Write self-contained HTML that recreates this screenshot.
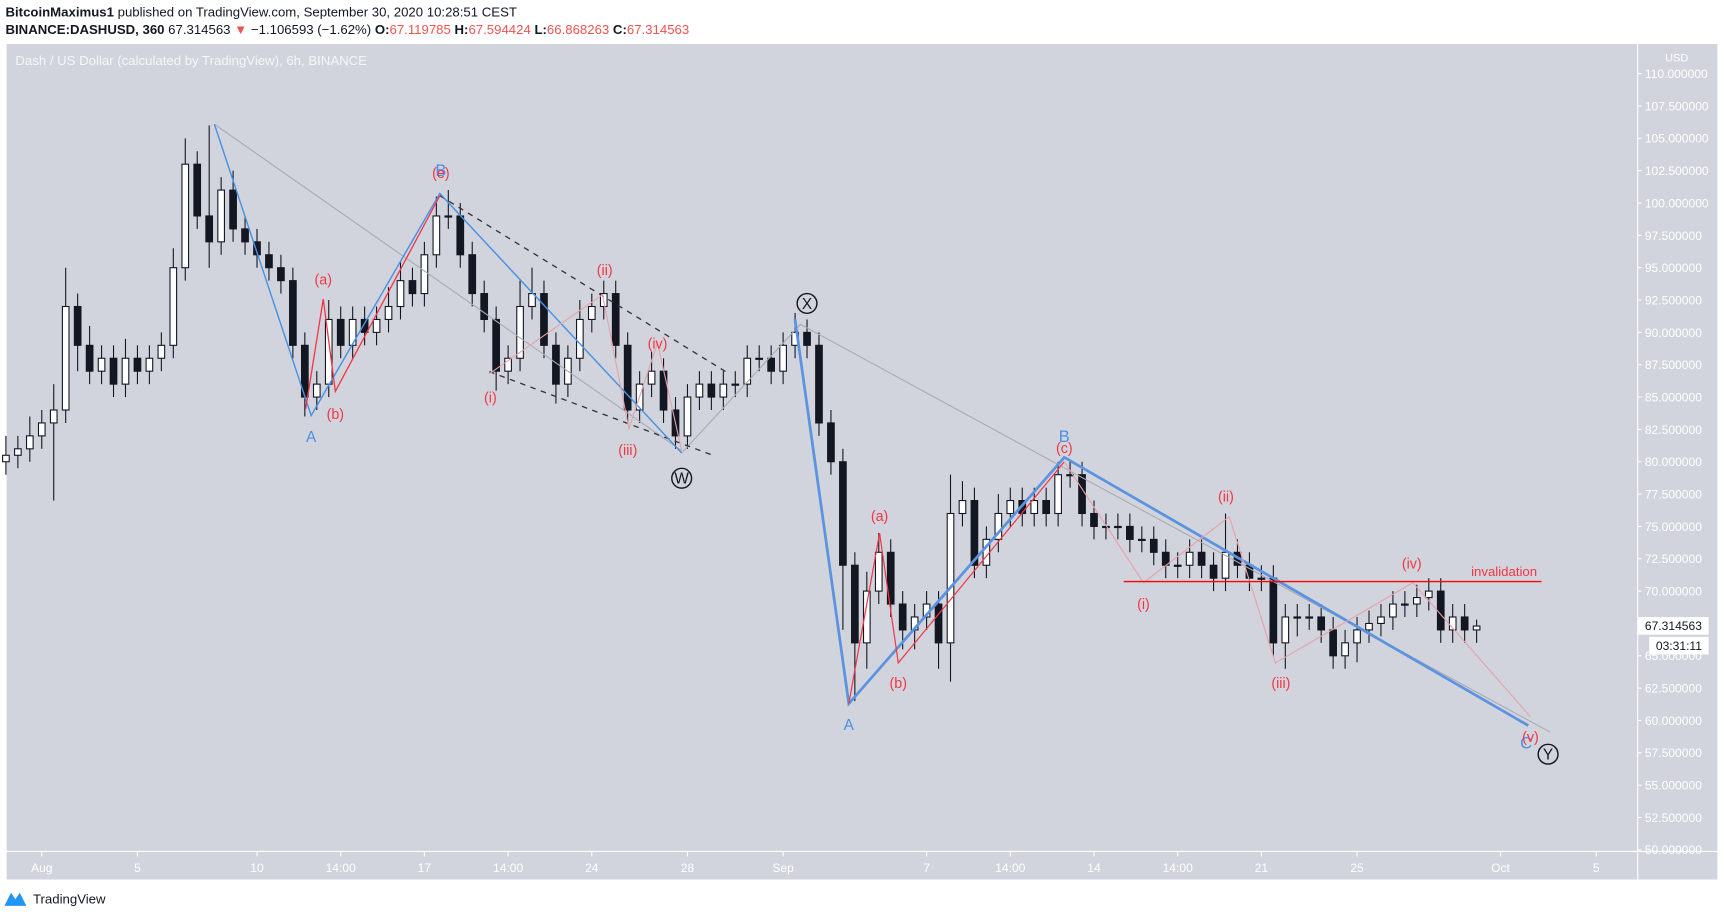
<!DOCTYPE html>
<html><head><meta charset="utf-8"><style>
html,body{margin:0;padding:0;background:#fff;width:1724px;height:918px;overflow:hidden}
svg{display:block;font-family:"Liberation Sans",sans-serif}
</style></head><body>
<svg id="chart" width="1724" height="918" viewBox="0 0 1568 835" preserveAspectRatio="none" xmlns="http://www.w3.org/2000/svg">
<rect x="0" y="0" width="1568" height="835" fill="#ffffff"/>
<text x="5" y="15" font-size="12" fill="#131722"><tspan font-weight="bold">BitcoinMaximus1</tspan> published on TradingView.com, September 30, 2020 10:28:51 CEST</text>
<text x="5" y="31" font-size="12" fill="#131722"><tspan font-weight="bold">BINANCE:DASHUSD, 360</tspan> 67.314563 <tspan fill="#ef5350">▼</tspan> −1.106593 (−1.62%) <tspan font-weight="bold">O:</tspan><tspan fill="#ef5350">67.119785</tspan> <tspan font-weight="bold">H:</tspan><tspan fill="#ef5350">67.594424</tspan> <tspan font-weight="bold">L:</tspan><tspan fill="#ef5350">66.868263</tspan> <tspan font-weight="bold">C:</tspan><tspan fill="#ef5350">67.314563</tspan></text>
<rect x="6" y="40" width="1556" height="760" fill="#d1d4dc"/>
<line x1="6" y1="774.5" x2="1562" y2="774.5" stroke="#fff" stroke-width="1"/>
<line x1="1489.5" y1="40" x2="1489.5" y2="800" stroke="#fff" stroke-width="1"/>
<text x="14" y="59" font-size="12" fill="#f5f6f8">Dash / US Dollar (calculated by TradingView), 6h, BINANCE</text>
<text x="1525" y="56" font-size="10" fill="#fff" text-anchor="middle">USD</text>
<g id="yaxis"></g>
<g id="xaxis"></g>
<g id="candles"></g>
<g id="ann"></g>
<g>
<path d="M4 824 L10 812 L14 818 L18 812 L24 824 Z" fill="#2196f3"/>
<text x="30" y="822" font-size="12" fill="#131722">TradingView</text>
</g>
</svg>
<script>
const priceTicks=[110,107.5,105,102.5,100,97.5,95,92.5,90,87.5,85,82.5,80,77.5,75,72.5,70,67.5,65,62.5,60,57.5,55,52.5,50];
const timeLabels=["Aug","5","10","14:00","17","14:00","24","28","Sep","7","14:00","14","14:00","21","25","Oct","5"];
const timeDays=[0,4,9,12.5,16,19.5,23,27,31,37,40.5,44,47.5,51,55,61,65];
// 12h candles starting Jul 30 12:00 (day -1.5 relative to Aug 1)
const startDay=-1.5;
const firstOpen=80.0;
const closes=[80.5,81,82,83,84,92,89,87,88,86,88,87,88,89,95,103,99,97,101,98,97,96,95,94,89,85,86,91,89,91,90,91,92,94,93,96,99,99,96,93,91,87,88,92,93,89,86,88,91,92,93,89,84,86,87,84,82,85,86,85,86,86,88,88,87,89,90,89,83,80,72,66,70,73,69,67,68,69,66,76,77,72,74,76,77,76,77,76,79,79,76,75,75,75,74,74,73,72,72,73,72,71,73,72,71,71,66,68,68,68,67,65,66,67,67.5,68,69,69,69.5,70,67,68,67,67.3];
const wickUp=[1.5,1,1.5,1,2,3,1,1.5,1,1,1.5,1,1,1,1.5,2,1,7,1,1.5,1,1,1,1,1,1,1,1.5,1,1,1,1,1.5,1.5,1,1,1.5,2,1,1,1,1,1,2,2,1,1,1,1.5,1,1,1,1,1,1.5,1,1,1,1,1,1,1,1,1,1,1,1.5,1,1,1,1,1,1.5,1.5,1,1,1,1,1,3,1.5,1,1,1.5,1,1,1,1,1,1,1,1,1,1,1,1,1,1,1,1,1,1,3,1,1,1,1,1,1,1,1,1,1,1,1,1,1,1,1,1,1,1,1,0.5];
const wickDn=[1,1,1,1,6,1,2,1,1,1,1,1,1,1,1,1,1,2,1,1,1,1,1,1,1,1.5,1,1,1,1,1,1,1,1,1,1,1,1,1,1,1,1.5,1,1,1,1,1.5,1,1,1,1,1,1,1,1,1,1,1,1,1,1,1,1,1,1,1,1,1,1,1,5,4.5,2,1,1,1.5,1.5,1,2,3,1,1,1,1,1,1,1,1,1,1,1,1,1,1,1,1,1,1,1,1,1,1,1,1,1,1,1,2,1.5,1,1,1,1,1.5,1,1,1,1,1,1,1,1,1,1,1,0.5];

const NS='http://www.w3.org/2000/svg';
const yOf=p=>67+(110-p)*706/60;
const xOf=d=>38+d*21.75;
function mk(tag,attrs,parent){const e=document.createElementNS(NS,tag);for(const k in attrs)e.setAttribute(k,attrs[k]);parent.appendChild(e);return e;}

const ya=document.getElementById('yaxis');
priceTicks.forEach(p=>{
  const y=yOf(p);
  const t=mk('line',{x1:1489,x2:1493,y1:y,y2:y,stroke:'#fff'},ya);
  
  
  const tx=mk('text',{x:1496,y:y+4,'font-size':11,fill:'#fff'},ya);
  tx.textContent=p.toFixed(6);
  
  
});
const xa=document.getElementById('xaxis');
timeLabels.forEach((l,i)=>{
  const x=xOf(timeDays[i]);
  const t=mk('line',{x1:x,x2:x,y1:775,y2:779,stroke:'#fff'},xa);
  
  
  const tx=mk('text',{x:x,y:793,'font-size':11,fill:'#fff','text-anchor':'middle'},xa);
  tx.textContent=l;
  
  
});

const cg=document.getElementById('candles');
let prev=firstOpen;
closes.forEach((c,i)=>{
  const o=prev; prev=c;
  const x=xOf(startDay+i*0.5);
  const hi=Math.max(o,c)+wickUp[i], lo=Math.min(o,c)-wickDn[i];
  const g=mk('g',{},cg);
  
  
  mk('line',{x1:x,x2:x,y1:yOf(hi),y2:yOf(lo),stroke:'#131722','stroke-width':1},g);
  const top=yOf(Math.max(o,c)), h=Math.max(1,yOf(Math.min(o,c))-top);
  mk('rect',{x:x-3,y:top,width:6,height:h,fill:c>=o?'#ffffff':'#131722',stroke:'#131722','stroke-width':1},g);
});

const an=document.getElementById('ann');
function pl(pts,stroke,w,name,dash){
  const e=mk('polyline',{points:pts.map(p=>p.join(',')).join(' '),fill:'none',stroke:stroke,'stroke-width':w},an);
  if(dash)e.setAttribute('stroke-dasharray',dash);
  
  
}
function lab(x,y,t,col,size,name){
  const e=mk('text',{x:x,y:y,'font-size':size||13,fill:col,'text-anchor':'middle'},an);
  e.textContent=t;
  
  
}
function circ(x,y,t,name){
  const c=mk('circle',{cx:x,cy:y,r:9,fill:'none',stroke:'#131722','stroke-width':1.3},an);
  
  
  lab(x,y+5,t,'#131722',14,name);
}
pl([[195,113],[620,410]],'#a8abb3',1,'gray-trend-1');
pl([[620,412],[728,295],[1410,666]],'#a8abb3',1,'gray-trend-2');
pl([[400,178],[660,338]],'#333',1.2,'channel-upper','5,5');
pl([[445,338],[648,414]],'#333',1.2,'channel-lower','5,5');
pl([[195,113],[283,378],[400,176],[620,412]],'#4a90e2',1.3,'wave-w-blue');
pl([[278,372],[294,272],[305,356],[400,178]],'#f23645',1.2,'wave-w-red');
pl([[445,340],[548,268],[572,390],[598,312],[620,410]],'#e8a0a8',1,'wave-w-sub');
pl([[723,290],[772,640],[968,416],[1390,660]],'#5b93e0',2.5,'wave-y-blue');
pl([[772,640],[800,485],[817,603],[968,420]],'#f23645',1.1,'wave-y-red');
pl([[968,420],[1040,530],[1118,470],[1160,603],[1285,530],[1392,652]],'#e8a0a8',1,'wave-y-sub');
pl([[1022,529],[1402,529]],'#f00',1.3,'invalidation-line');
lab(1368,524,'invalidation','#f23645',12,'invalidation-label');
lab(283,402,'A','#4a90e2',14,'label-a1');
lab(401,160,'B','#4a90e2',15,'label-b1');
lab(401,162,'(e)','#f23645',13,'label-e');
lab(294,259,'(a)','#f23645',13,'label-a-sub1');
lab(305,381,'(b)','#f23645',13,'label-b-sub1');
lab(446,366,'(i)','#f23645',13,'label-i1');
lab(550,250,'(ii)','#f23645',13,'label-ii1');
lab(571,414,'(iii)','#f23645',13,'label-iii1');
lab(598,317,'(iv)','#f23645',13,'label-iv1');
circ(620,435,'W','label-w');
circ(734,276,'X','label-x');
lab(772,664,'A','#4a90e2',14,'label-a2');
lab(968,402,'B','#4a90e2',15,'label-b2');
lab(968,412,'(c)','#f23645',13,'label-c2');
lab(800,474,'(a)','#f23645',13,'label-a-sub2');
lab(817,626,'(b)','#f23645',13,'label-b-sub2');
lab(1040,554,'(i)','#f23645',13,'label-i2');
lab(1115,456,'(ii)','#f23645',13,'label-ii2');
lab(1165,626,'(iii)','#f23645',13,'label-iii2');
lab(1284,517,'(iv)','#f23645',13,'label-iv2');
lab(1388,681,'C','#4a90e2',15,'label-c-blue');
lab(1392,675,'(v)','#f23645',13,'label-v2');
circ(1408,686,'Y','label-y');
const lp=yOf(67.314563);
const r1=mk('rect',{x:1490,y:lp-8,width:64,height:16,fill:'#fff'},an);


lab(1522,lp+4,'67.314563','#131722',11,'last-price-label');
const r2=mk('rect',{x:1500,y:lp+10,width:54,height:16,fill:'#fff'},an);


lab(1527,lp+22,'03:31:11','#131722',11,'countdown-label');
</script>
</body></html>
